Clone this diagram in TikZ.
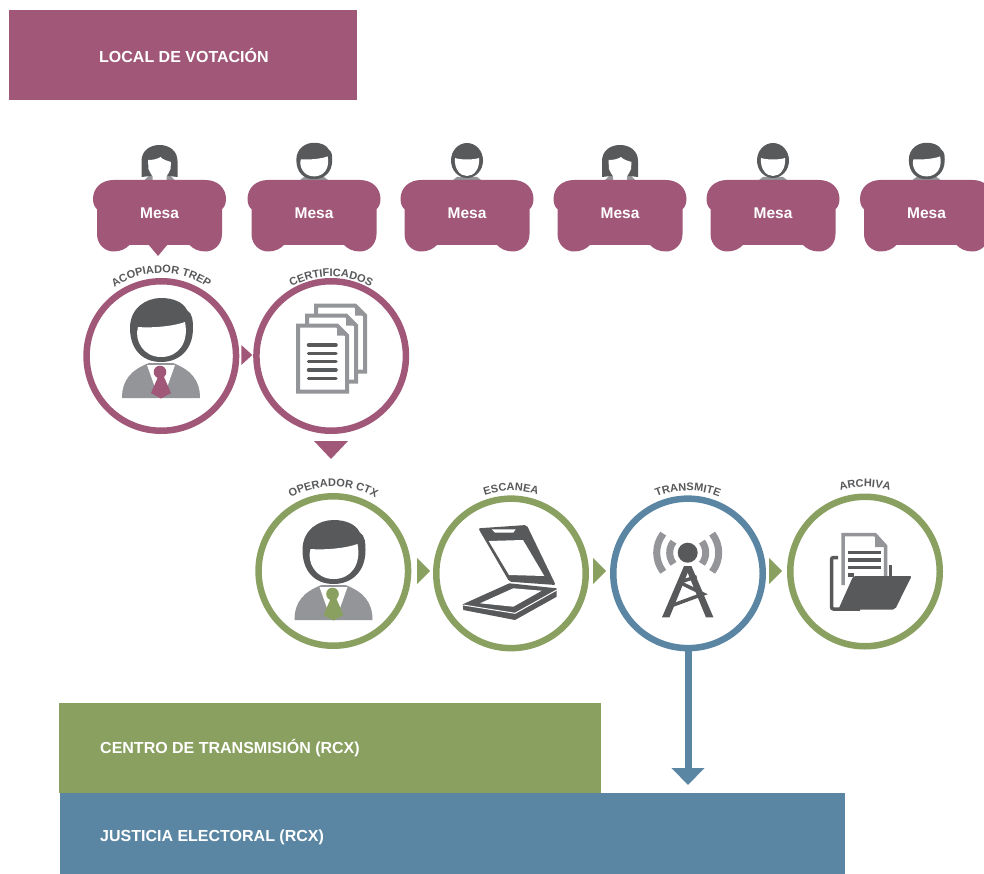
\documentclass[tikz,border=0pt]{standalone}
\usepackage{fontspec}
\setmainfont{Liberation Sans}
\usetikzlibrary{arrows.meta, decorations.text}

\definecolor{ciruela}{RGB}{160, 87, 120}
\definecolor{verde}{RGB}{138, 160, 96}
\definecolor{azul}{RGB}{90, 134, 163}
\definecolor{oscuro}{RGB}{88, 89, 91}
\definecolor{gris}{RGB}{147, 149, 152}

\newcommand{\arclabel}[3]{
    \path [decorate, decoration={text along path, text align=center, text color=oscuro,
        text={|\fontsize{11}{13}\bfseries\selectfont|#3}}]
        (#1.center) ++(140:#2) arc (140:40:#2);
}

\tikzset{
    anillo/.style={circle, draw=#1, line width=6.5pt, minimum size=149.5pt, inner sep=0pt, fill=white},
    franja/.style={fill=#1, inner sep=0pt, anchor=north west},
    rotulo/.style={text=white, anchor=west, inner sep=0pt, font=\fontsize{16}{19}\bfseries\selectfont},
    pics/cabeza/.style={code={
        \fill [oscuro] (-31, 2) .. controls (-31, 22) and (-15, 32) .. (0, 32)
            .. controls (12, 32) and (22, 28) .. (26, 20)
            .. controls (32, 16) and (32, 8) .. (32, 2)
            .. controls (32, -20) and (18, -32) .. (0, -32)
            .. controls (-18, -32) and (-31, -20) .. (-31, 2);
        \fill [white] (-23, 3) .. controls (-12, 2) and (10, 3) .. (24, 8)
            .. controls (28, -12) and (18, -27) .. (0, -27)
            .. controls (-18, -27) and (-27, -10) .. (-23, 3);
    }},
    pics/hombre/.style={code={
        \fill [gris] (-39, -68) .. controls (-39, -50) and (-30, -40) .. (-12, -33) -- (12, -33)
            .. controls (30, -40) and (39, -50) .. (39, -68) -- cycle;
        \fill [white] (-14, -35) -- (14, -35) -- (3, -66) -- (-3, -66) -- cycle;
        \fill [#1] (-1, -42) circle (6.3);
        \fill [#1] (-3, -47) -- (3, -47) -- (10, -63) -- (0, -68.5) -- (-10, -63) -- cycle;
        \pic {cabeza};
    }},
    pics/chico/.style={code={
        \fill [gris] (-14, -19) -- (-10, -16) -- (10, -16) -- (14, -19) -- cycle;
        \pic [scale=0.57] {cabeza};
    }},
    pics/chicob/.style={code={
        \fill [gris] (-14, -19) -- (-10, -16) -- (10, -16) -- (14, -19) -- cycle;
        \fill [oscuro] (0, 0.5) ellipse (16 and 17.5);
        \fill [white] (-12, 3) .. controls (-6, 1) and (6, 1) .. (12, 3)
            .. controls (13, -8) and (7, -15) .. (0, -15)
            .. controls (-7, -15) and (-13, -8) .. (-12, 3);
    }},
    pics/mujer/.style={code={
        \fill [gris] (-15, -19) -- (-11, -15) -- (-7, -15) -- (-7, -19) -- cycle;
        \fill [gris] (15, -19) -- (11, -15) -- (7, -15) -- (7, -19) -- cycle;
        \fill [oscuro] (-18, -16) -- (-18, 0) .. controls (-18, 10) and (-10, 16) .. (0, 16)
            .. controls (10, 16) and (18, 10) .. (18, 0) -- (18, -16) -- (9, -15) -- (0, -12) -- (-9, -15) -- cycle;
        \fill [white] (-11.5, 1) .. controls (-6, 1) and (-2, 2) .. (1, 4)
            .. controls (3, 1.5) and (8, 0) .. (11.5, -1) -- (11, -8)
            .. controls (9, -14) and (4, -19) .. (0, -19)
            .. controls (-4, -19) and (-9, -14) .. (-11, -8) -- cycle;
    }},
    pics/mesa/.style={code={
        \fill [ciruela] (-46, 32) -- (46, 32) .. controls (58, 32) and (66.5, 24) .. (66.5, 13)
            .. controls (66.5, 7) and (64, 4) .. (62.5, 3) -- (62.5, -22)
            .. controls (62.5, -33) and (54, -39.5) .. (46, -39.5)
            .. controls (39, -39.5) and (34, -37) .. (30, -33) -- (-30, -33)
            .. controls (-34, -37) and (-39, -39.5) .. (-46, -39.5)
            .. controls (-54, -39.5) and (-62.5, -33) .. (-62.5, -22) -- (-62.5, 3)
            .. controls (-64, 4) and (-66.5, 7) .. (-66.5, 13)
            .. controls (-66.5, 24) and (-58, 32) .. (-46, 32) -- cycle;
        \node [text=white, font=\fontsize{15.5}{18}\bfseries\selectfont] (texto) at (0, -1.5) {Mesa};
    }},
    pics/hoja/.style={code={
        \draw [gris, fill=white, line width=4pt] (0, 0) -- (39, 0) -- (49, -10) -- (49, -66) -- (0, -66) -- cycle;
        \fill [gris] (39, 0) -- (49, -10) -- (39, -10) -- cycle;
    }}
}

\begin{document}
\begin{tikzpicture}[x=1pt, y=1pt]
    \clip (0, -874) rectangle (984, 0);

    \node [franja=ciruela, minimum width=348pt, minimum height=90pt] (local) at (9, -10) {};
    \node [rotulo] (localtexto) at (local.west -| 99, -55.5) {LOCAL DE VOTACIÓN};

    \foreach \x/\tipo [count=\i] in {159.5/mujer, 314/chico, 467/chicob, 620/mujer, 773/chicob, 926.5/chico} {
        \pic at (\x, -161) {\tipo};
        \pic (mesa\i) at (\x, -212) {mesa};
    }
    \fill [ciruela] (148, -244) -- (168, -244) -- (158, -256) -- cycle;

    \node [anillo=ciruela] (acopiador) at (161.3, -356) {};
    \node [anillo=ciruela] (certificados) at (331.2, -356) {};
    \node [anillo=verde] (operador) at (333.3, -571) {};
    \node [anillo=verde] (escanea) at (511, -573.4) {};
    \node [anillo=azul] (transmite) at (688, -573.4) {};
    \node [anillo=verde] (archiva) at (865, -571.5) {};

    \arclabel{acopiador}{83}{ACOPIADOR TREP}
    \arclabel{certificados}{79.5}{CERTIFICADOS}
    \arclabel{operador}{84.5}{OPERADOR CTX}
    \arclabel{escanea}{82.5}{ESCANEA}
    \arclabel{transmite}{82.5}{TRANSMITE}
    \arclabel{archiva}{84.5}{ARCHIVA}

    \fill [ciruela] (241.3, -345) -- (252.3, -355) -- (241.3, -365) -- cycle;
    \fill [ciruela] (314, -441) -- (348, -441) -- (331, -459) -- cycle;
    \foreach \x in {417, 593, 769} {
        \fill [verde] (\x, -558) -- (\x + 13, -571) -- (\x, -584) -- cycle;
    }

    \pic at (161, -330) {hombre=ciruela};
    \pic at (333.5, -552) {hombre=verde};

    \pic at (316, -305.5) {hoja};
    \pic at (307, -315.5) {hoja};
    \pic at (298, -325.5) {hoja};
    \foreach \y in {345, 353.3, 361.7, 370, 378.3} {
        \draw [oscuro, line width=3.5pt, line cap=round] (308.5, -\y) -- (336, -\y);
    }

    % escaner
    \fill [oscuro, rounded corners=2pt] (478.3, -528.3) -- (526.7, -525) -- (555.7, -585) -- (509.3, -581.7) -- cycle;
    \fill [white] (488.7, -541) -- (523, -540) -- (544.3, -576) -- (509, -575) -- cycle;
    \fill [white] (491.7, -529.3) -- (515.7, -529.3) -- (513.3, -532.7) -- (495, -532.7) -- cycle;
    \fill [oscuro] (509.3, -583.3) -- (556.7, -588.3) -- (556.7, -596.7) -- (515, -620) -- (463.3, -610) -- (462.7, -604.3) -- cycle;
    \fill [white] (513.3, -588.3) -- (541.7, -590.7) -- (513.3, -606.7) -- (480, -603.3) -- cycle;
    \draw [white, line width=1pt] (463.3, -605) -- (515, -613.3) -- (556.7, -590);

    % antena
    \fill [oscuro] (687.7, -552.7) circle (10);
    \fill [oscuro] (662, -617.3) -- (669.5, -617.3) -- (688, -572) -- (688, -566) -- (684, -566) -- cycle;
    \fill [oscuro] (713.4, -617.3) -- (705.9, -617.3) -- (687.4, -572) -- (687.4, -566) -- (691.4, -566) -- cycle;
    \draw [oscuro, line width=3.5pt] (681, -581.7) -- (696.7, -576.7);
    \draw [oscuro, line width=3.5pt] (681, -583) -- (703.3, -594) -- (673.3, -605);
    \foreach \r in {18, 31} {
        \draw [gris, line width=7pt] (687.7, -552.7) ++(142:\r) arc (142:218:\r);
        \draw [gris, line width=7pt] (687.7, -552.7) ++(38:\r) arc (38:-38:\r);
    }

    % carpeta
    \draw [oscuro, line width=3.5pt, rounded corners=2pt] (838, -557.5) -- (831.5, -557.5) -- (831.5, -609) -- (860, -609);
    \draw [oscuro, line width=3.5pt] (890.7, -565) -- (890.7, -577);
    \draw [gris, fill=white, line width=3.5pt] (843, -585) -- (843, -534.5) -- (875, -534.5) -- (885.5, -546) -- (885.5, -585);
    \fill [gris] (875, -534) -- (887, -547) -- (875, -547) -- cycle;
    \foreach \y in {552.3, 560, 567.7} {
        \draw [oscuro, line width=3.5pt] (848.3, -\y) -- (881, -\y);
    }
    \draw [oscuro, line width=3.5pt] (848.3, -575) -- (854, -575);
    \fill [oscuro, rounded corners=2pt] (853.3, -576) -- (911.7, -576) -- (895, -609.5) -- (838.3, -609.5) -- cycle;

    \node [franja=verde, minimum width=542pt, minimum height=90pt] (centro) at (59, -703) {};
    \node [rotulo] (centrotexto) at ([xshift=41pt]centro.west) {CENTRO DE TRANSMISIÓN (RCX)};
    \node [franja=azul, minimum width=785pt, minimum height=81pt] (justicia) at (60, -793) {};
    \node [rotulo] (justiciatexto) at ([xshift=40pt, yshift=-3.5pt]justicia.west) {JUSTICIA ELECTORAL (RCX)};

    \coordinate (punta) at (688, -785);
    \draw [azul, line width=7pt, -{Triangle[width=32pt, length=17pt]}] (transmite) -- (punta);
\end{tikzpicture}
\end{document}
